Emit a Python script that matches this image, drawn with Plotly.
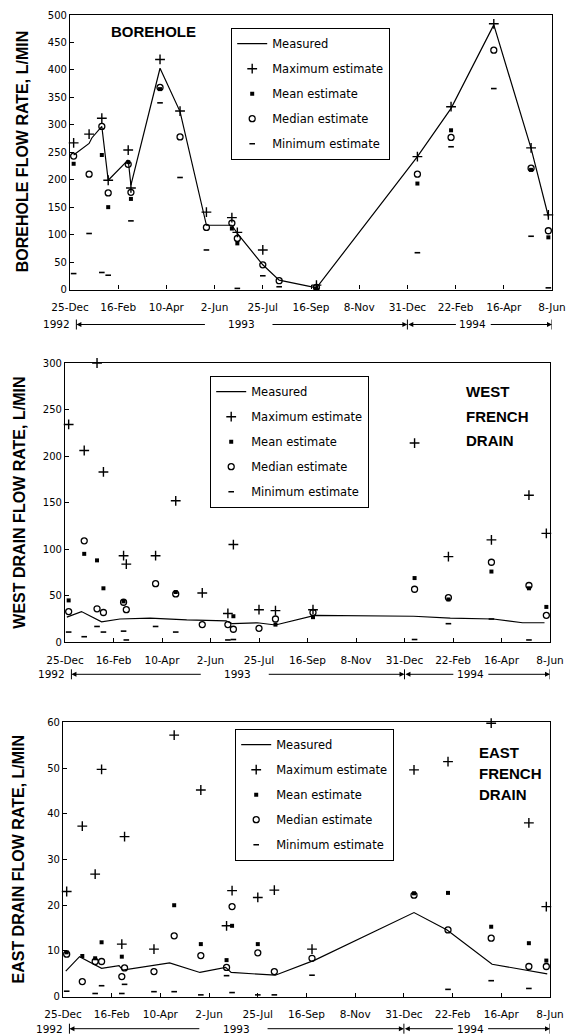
import plotly.graph_objects as go
from datetime import date, timedelta

# ---------------- data ----------------
tick_dates = ["1992-12-25", "1993-02-16", "1993-04-10", "1993-06-02", "1993-07-25", "1993-09-16",
              "1993-11-08", "1993-12-31", "1994-02-22", "1994-04-16", "1994-06-08"]
tick_labels = ["25-Dec", "16-Feb", "10-Apr", "2-Jun", "25-Jul", "16-Sep", "8-Nov",
               "31-Dec", "22-Feb", "16-Apr", "8-Jun"]

sample_dates = ["1992-12-29", "1993-01-15", "1993-01-29", "1993-02-05", "1993-02-27", "1993-03-02",
                "1993-04-03", "1993-04-25", "1993-05-24", "1993-06-21", "1993-06-27", "1993-07-25",
                "1993-08-12", "1993-09-22", "1994-01-11", "1994-02-17", "1994-04-05", "1994-05-16",
                "1994-06-04"]

# Borehole
bh_meas_dates = ["1992-12-29", "1993-01-15", "1993-01-18", "1993-01-29", "1993-02-05", "1993-02-27",
                 "1993-03-02", "1993-04-03", "1993-04-25", "1993-05-24", "1993-06-21", "1993-06-27",
                 "1993-07-25", "1993-08-12", "1993-09-13", "1993-09-22", "1994-01-11", "1994-02-17",
                 "1994-04-05", "1994-05-16", "1994-06-04"]
bh_meas = [245, 266, 276, 297, 199, 236, 190, 403, 324, 117, 117, 102, 45, 17, 6, 3, 242, 330, 482, 257, 133]
bh_max = [267, 283, 312, 199, 254, 185, 419, 325, 141, 131, 104, 72, None, 8, 242, 333, 484, 258, 136]
bh_mean = [229, None, 245, 150, 232, 165, 365, None, None, 111, 84, None, None, 2, 193, 290, None, 218, 95]
bh_median = [243, 210, 297, 176, 228, 177, 368, 278, 113, 121, 93, 45, 16, 4, 210, 277, 436, 221, 107]
bh_min = [29, 102, 31, 26, None, 125, 340, 204, 72, None, 2, 25, 5, 1, 67, 260, 366, 97, 3]

# West French drain
wd_meas_dates = ["1992-12-27", "1993-01-12", "1993-02-03", "1993-02-23", "1993-03-28", "1993-05-07",
                 "1993-06-19", "1993-06-26", "1993-07-23", "1993-08-12", "1993-09-24", "1994-01-10",
                 "1994-02-19", "1994-04-07", "1994-05-09", "1994-06-02"]
wd_meas = [27, 33, 22, 25, 26, 24, 23, 20, 21, 18.6, 29, 28, 26, 25, 21, 21]
wd_max = [234, 206, 300, 183, 93, 84, 93, 152, 53, 31, 105, 35, 34, 35, 214, 92, 110, 158, 117]
wd_mean = [45, 95, 88, 58, 44, None, None, 54, None, None, 28, None, 19, 27, 69, 46, 76, 58, 38]
wd_median = [33, 109, 36, 32, 43, 35, 63, 52, 19, 19, 14, 15, 25, 32, 57, 48, 86, 61, 29]
wd_min = [11, 6, 17, 11, 12, 2.5, 17, 11, None, 2.5, 3, None, None, None, 3, 20, 25, 2.5, None]

# East French drain
ed_meas_dates = ["1992-12-28", "1993-01-12", "1993-02-05", "1993-02-24", "1993-02-28", "1993-03-27",
                 "1993-04-20", "1993-05-23", "1993-06-20", "1993-06-26", "1993-08-13", "1993-09-25",
                 "1994-01-11", "1994-02-16", "1994-04-06", "1994-06-05"]
ed_meas = [5.6, 8.75, 6.2, 6.8, 5.8, 6.6, 7.4, 5.3, 6.4, 5.3, 4.7, 8, 18.4, 14.6, 7.1, 5]
ed_max = [23, 37.3, 26.8, 49.7, 11.5, 35, 10.4, 57.2, 45.2, 15.5, 23.2, 21.7, 23.3, 10.4, 49.6, 51.4, 59.8, 38, 19.7]
ed_mean = [9.7, 8.9, 8.4, 11.9, 8.75, None, None, 20, 11.5, 8, 15.5, 11.5, None, None, 22.6, 22.7, 15.3, 11.7, 7.9]
ed_median = [9.3, 3.3, 7.7, 7.7, 4.4, 6.3, 5.5, 13.3, 9, 6.4, 19.7, 9.6, 5.5, 8.4, 22.2, 14.6, 12.8, 6.6, 6.6]
ed_min = [1.2, None, 0.7, 2.4, 0.7, 2.7, 1.1, 1.1, 0.4, 4.6, 0.9, 0.4, 0.4, 4.7, None, 1.6, 3.5, 1.8, None]

y_titles = ["BOREHOLE FLOW RATE, L/MIN", "WEST DRAIN FLOW RATE, L/MIN", "EAST DRAIN FLOW RATE, L/MIN"]
series_names = ["Measured", "Maximum estimate", "Mean estimate", "Median estimate", "Minimum estimate"]

# ---------------- layout geometry (pixels) ----------------
W, H = 568, 1035
FONT = "DejaVu Sans"
BOLD = "Liberation Sans"
panels = [
    dict(x0=70, x1=552, y0=15, y1=289.5, ymax=500, dtick=50,
         meas_x=bh_meas_dates, meas=bh_meas, mx=bh_max, mean=bh_mean, med=bh_median, mn=bh_min,
         leg=(231, 28), ytitle_x=22, year_dy=35),
    dict(x0=65, x1=550, y0=363, y1=642.3, ymax=300, dtick=50,
         meas_x=wd_meas_dates, meas=wd_meas, mx=wd_max, mean=wd_mean, med=wd_median, mn=wd_min,
         leg=(210, 376), ytitle_x=20, year_dy=32),
    dict(x0=63, x1=550, y0=722.3, y1=996.7, ymax=60, dtick=10,
         meas_x=ed_meas_dates, meas=ed_meas, mx=ed_max, mean=ed_mean, med=ed_median, mn=ed_min,
         leg=(235, 729), ytitle_x=18, year_dy=32),
]

fig = go.Figure()
layout = dict(template="none", width=W, height=H,
              margin=dict(l=0, r=0, t=0, b=0, pad=0, autoexpand=False),
              paper_bgcolor="white", plot_bgcolor="white", annotations=[], shapes=[])

START = date(1992, 12, 25)
TOTAL_DAYS = 530

for i, p in enumerate(panels, start=1):
    sfx = "" if i == 1 else str(i)
    xa, ya = f"x{sfx}", f"y{sfx}"
    legname = "legend" if i == 1 else f"legend{i}"

    common = dict(xaxis=xa, yaxis=ya, legend=legname, cliponaxis=False)
    fig.add_trace(go.Scatter(x=p["meas_x"], y=p["meas"], mode="lines", name=series_names[0],
                             line=dict(color="black", width=1.2), legendgroup=f"a{i}", **common))
    fig.add_trace(go.Scatter(x=sample_dates, y=p["mx"], mode="markers", name=series_names[1],
                             marker=dict(symbol="cross-thin", size=7, line=dict(color="black", width=1.4)),
                             legendgroup=f"b{i}", **common))
    fig.add_trace(go.Scatter(x=sample_dates, y=p["mean"], mode="markers", name=series_names[2],
                             marker=dict(symbol="square", size=4, color="black"),
                             legendgroup=f"c{i}", **common))
    fig.add_trace(go.Scatter(x=sample_dates, y=p["med"], mode="markers", name=series_names[3],
                             marker=dict(symbol="circle-open", size=6, color="black", line=dict(width=1.3)),
                             legendgroup=f"d{i}", **common))
    fig.add_trace(go.Scatter(x=sample_dates, y=p["mn"], mode="markers", name=series_names[4],
                             marker=dict(symbol="line-ew", size=4, line=dict(color="black", width=1.6)),
                             legendgroup=f"e{i}", **common))

    layout[f"xaxis{sfx}"] = dict(
        domain=[p["x0"] / W, p["x1"] / W], anchor=ya, type="date", automargin=False,
        range=["1992-12-25", "1994-06-08"], tickmode="array", tickvals=tick_dates, ticktext=tick_labels,
        ticks="inside", ticklen=4, tickcolor="black", showline=True, mirror=True, linecolor="black",
        linewidth=1.2, showgrid=False, zeroline=False, ticklabelstandoff=8,
        tickfont=dict(family=FONT, size=10.5, color="black"))
    layout[f"yaxis{sfx}"] = dict(
        domain=[1 - p["y1"] / H, 1 - p["y0"] / H], anchor=xa, range=[0, p["ymax"]], dtick=p["dtick"],
        automargin=False, ticks="inside", ticklen=4, tickcolor="black", showline=True, mirror=True,
        linecolor="black", linewidth=1.2, showgrid=False, zeroline=False,
        tickfont=dict(family=FONT, size=10, color="black"))

    lx, ly = p["leg"]
    layout[legname] = dict(x=lx / W, y=1 - ly / H, xanchor="left", yanchor="top",
                           bgcolor="white", bordercolor="black", borderwidth=1.2,
                           font=dict(family=FONT, size=11.5, color="black"),
                           traceorder="grouped", tracegroupgap=6, itemwidth=30)

    # y-axis title
    layout["annotations"].append(dict(
        text=f"<b>{y_titles[i-1]}</b>", xref="paper", yref="paper",
        x=p["ytitle_x"] / W, y=1 - ((p["y0"] + p["y1"]) / 2) / H, textangle=-90, showarrow=False,
        font=dict(family=BOLD, size=16, color="black"), xanchor="center", yanchor="middle"))

    # year row
    width_px = p["x1"] - p["x0"]
    ppd = width_px / TOTAL_DAYS
    yrow = -p["year_dy"] / (p["y1"] - p["y0"])
    xr, yr = xa, f"{ya} domain"

    def d(n):
        return (START + timedelta(days=n)).isoformat()

    arrow = dict(xref=xr, yref=yr, y=yrow, text="", showarrow=True, arrowhead=2, arrowsize=1,
                 arrowwidth=1, arrowcolor="black", ay=0, standoff=0, startstandoff=0)
    layout["annotations"] += [
        dict(arrow, x=d(7), ax=(150 - 7) * ppd),
        dict(arrow, x=d(371), ax=-(371 - 221) * ppd),
        dict(arrow, x=d(372), ax=(426 - 372) * ppd),
        dict(arrow, x=d(530), ax=-(530 - 461) * ppd),
    ]
    yf = dict(family=FONT, size=10.5, color="black")
    layout["annotations"] += [
        dict(text="1992", xref=xr, yref=yr, x=d(7), y=yrow, xanchor="right", yanchor="middle",
             xshift=-4, showarrow=False, font=yf),
        dict(text="1993", xref=xr, yref=yr, x=d(189), y=yrow, xanchor="center", yanchor="middle",
             showarrow=False, font=yf),
        dict(text="1994", xref=xr, yref=yr, x=d(443), y=yrow, xanchor="center", yanchor="middle",
             showarrow=False, font=yf),
    ]
    bh = 5 / (p["y1"] - p["y0"])
    for n in (7, 371, 530):
        layout["shapes"].append(dict(type="line", xref=xr, yref=yr, x0=d(n), x1=d(n),
                                     y0=yrow - bh, y1=yrow + bh, line=dict(color="black", width=1)))

# panel titles
tf = dict(family=BOLD, size=15, color="black")
layout["annotations"] += [
    dict(text="<b>BOREHOLE</b>", xref="paper", yref="paper", x=109 / W, y=1 - 32 / H,
         xanchor="left", yanchor="middle", showarrow=False, font=tf),
]
for txt, yy in zip(["WEST", "FRENCH", "DRAIN"], [391, 416, 440]):
    layout["annotations"].append(dict(text=f"<b>{txt}</b>", xref="paper", yref="paper", x=464 / W,
                                      y=1 - yy / H, xanchor="left", yanchor="middle",
                                      showarrow=False, font=tf))
for txt, yy in zip(["EAST", "FRENCH", "DRAIN"], [752, 773, 794]):
    layout["annotations"].append(dict(text=f"<b>{txt}</b>", xref="paper", yref="paper", x=477 / W,
                                      y=1 - yy / H, xanchor="left", yanchor="middle",
                                      showarrow=False, font=tf))

fig.update_layout(**layout)
fig.write_html("out.html", config={"displayModeBar": False},
               post_script="document.body.style.margin='0';document.body.style.overflow='hidden';")
